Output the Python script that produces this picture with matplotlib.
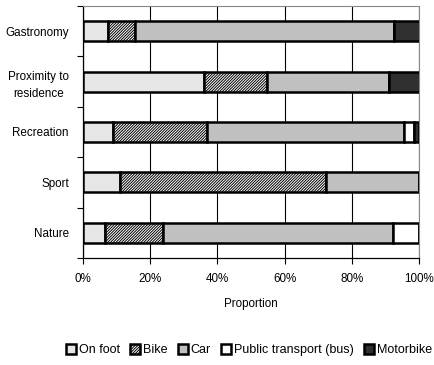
import matplotlib
matplotlib.use("Agg")
import matplotlib.pyplot as plt
import numpy as np

plt.rcParams['font.family'] = ['Liberation Sans', 'DejaVu Sans']
plt.rcParams['hatch.linewidth'] = 0.7

categories = ["Gastronomy", "Proximity to\nresidence", "Recreation", "Sport", "Nature"]
modes = ["On foot", "Bike", "Car", "Public transport (bus)", "Motorbike"]

on_foot = [7.5, 36.1, 9.0, 11.0, 6.7]
bike = [7.9, 18.5, 28.0, 61.3, 17.1]
car = [76.9, 36.2, 58.3, 27.7, 68.3]
bus = [0.0, 0.0, 3.2, 0.0, 7.9]
motorbike = [7.7, 9.2, 1.5, 0.0, 0.0]

series = [on_foot, bike, car, bus, motorbike]
colors = ["#e6e6e6", "#ffffff", "#c0c0c0", "#ffffff", "#303030"]
hatches = [None, "////////////", None, None, None]

fs = 8.4

fig = plt.figure(figsize=(4.35, 3.65), dpi=100)
ax = fig.add_axes([82.7 / 435, 1 - 258 / 365, (419.5 - 82.7) / 435, (258 - 6) / 365])

y = np.arange(len(categories))[::-1]
left = np.zeros(len(categories))
handles = []
for vals, c, h, name in zip(series, colors, hatches, modes):
    vals = np.array(vals)
    bars = ax.barh(y, vals, left=left, height=0.4, color=c, hatch=h,
                   edgecolor="black", linewidth=1.8, label=name, zorder=3)
    left = left + vals
    handles.append(bars)

ax.set_xlim(0, 100)
ax.set_ylim(-0.5, len(categories) - 0.5)
ax.set_xticks([0, 20, 40, 60, 80, 100])
ax.set_xticklabels(["0%", "20%", "40%", "60%", "80%", "100%"], fontsize=fs)
ax.set_yticks(y)
ax.set_yticklabels(categories, fontsize=fs, ha="right", multialignment="center",
                   linespacing=1.5)
ax.set_yticks(np.arange(-0.5, len(categories), 1.0), minor=True)
ax.tick_params(axis="y", which="major", length=0, pad=10)
ax.tick_params(axis="y", which="minor", length=4, width=0.8, direction="out")
ax.tick_params(axis="x", length=4, width=0.8, direction="out", pad=7)
ax.grid(axis="x", color="black", linewidth=0.8, zorder=0)
for s in ["top", "right"]:
    ax.spines[s].set_color("#888888")
for s in ["left", "bottom"]:
    ax.spines[s].set_color("black")
    ax.spines[s].set_linewidth(0.9)
ax.set_xlabel("Proportion", fontsize=fs, labelpad=9)

fig.legend(handles=handles, labels=modes, loc="center", bbox_to_anchor=(249 / 435, 1 - 350 / 365),
           ncol=5, frameon=False, fontsize=9, handlelength=0.8, handleheight=0.8,
           handletextpad=0.25, columnspacing=0.8)

fig.savefig("out.png", dpi=100)
